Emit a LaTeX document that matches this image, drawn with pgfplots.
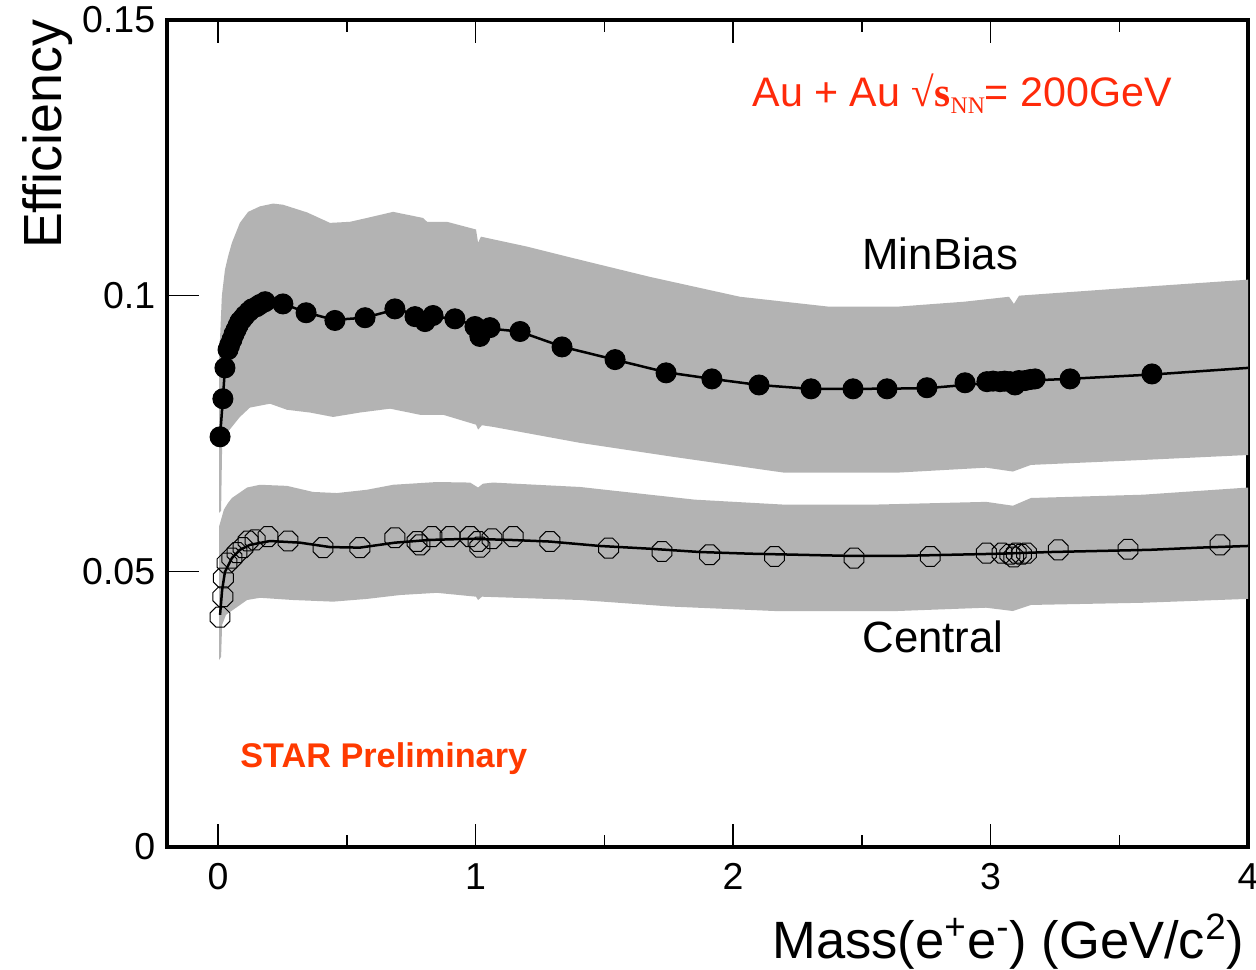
\documentclass[border=0pt]{standalone}
\usepackage{pgfplots}
\pgfplotsset{compat=1.18}
\usepgfplotslibrary{fillbetween}
\usepackage{fontspec}
\setmainfont{Liberation Sans}
\newfontfamily\seriffont{Liberation Serif}
\definecolor{bandgray}{RGB}{179,179,179}
\definecolor{aured}{RGB}{255,42,10}
\definecolor{starred}{RGB}{255,58,0}
\pgfdeclareplotmark{oct}{%
  \pgfpathmoveto{\pgfpointpolar{22.5}{\pgfplotmarksize}}%
  \pgfpathlineto{\pgfpointpolar{67.5}{\pgfplotmarksize}}%
  \pgfpathlineto{\pgfpointpolar{112.5}{\pgfplotmarksize}}%
  \pgfpathlineto{\pgfpointpolar{157.5}{\pgfplotmarksize}}%
  \pgfpathlineto{\pgfpointpolar{202.5}{\pgfplotmarksize}}%
  \pgfpathlineto{\pgfpointpolar{247.5}{\pgfplotmarksize}}%
  \pgfpathlineto{\pgfpointpolar{292.5}{\pgfplotmarksize}}%
  \pgfpathlineto{\pgfpointpolar{337.5}{\pgfplotmarksize}}%
  \pgfpathclose
  \pgfusepathqstroke}

\pgfplotstableread{
x y
0.004 0.0880
0.015 0.1000
0.027 0.1047
0.039 0.1071
0.054 0.1096
0.085 0.1132
0.117 0.1152
0.163 0.1162
0.214 0.1167
0.252 0.1165
0.346 0.1151
0.435 0.1132
0.513 0.1134
0.579 0.1141
0.680 0.1152
0.796 0.1141
0.812 0.1134
0.889 0.1134
1.002 0.1120
1.010 0.1096
1.021 0.1107
1.200 0.1089
1.406 0.1065
1.678 0.1034
2.027 0.0998
2.373 0.0980
2.637 0.0980
2.897 0.0989
3.072 0.0998
3.091 0.0985
3.111 0.1000
3.592 0.1016
4.000 0.1029
}\mbup
\pgfplotstableread{
x y
0.004 0.0606
0.012 0.0610
0.016 0.0726
0.035 0.0751
0.054 0.0762
0.085 0.0780
0.124 0.0797
0.202 0.0804
0.268 0.0793
0.357 0.0788
0.447 0.0780
0.551 0.0788
0.668 0.0795
0.784 0.0784
0.874 0.0784
1.002 0.0766
1.010 0.0757
1.025 0.0765
1.068 0.0762
1.406 0.0733
1.763 0.0708
2.198 0.0679
2.637 0.0679
2.983 0.0688
3.087 0.0681
3.157 0.0693
3.592 0.0702
4.000 0.0711
}\mblo
\pgfplotstableread{
x y
0.004 0.0581
0.023 0.0612
0.039 0.0624
0.054 0.0633
0.113 0.0652
0.163 0.0657
0.268 0.0655
0.369 0.0644
0.462 0.0642
0.579 0.0648
0.680 0.0657
0.850 0.0662
0.979 0.0661
1.010 0.0652
1.029 0.0659
1.068 0.0661
1.406 0.0653
1.852 0.0630
2.198 0.0621
2.548 0.0621
2.983 0.0626
3.087 0.0619
3.157 0.0633
3.592 0.0639
4.000 0.0652
}\ceup
\pgfplotstableread{
x y
0.004 0.0339
0.012 0.0345
0.016 0.0403
0.031 0.0421
0.058 0.0430
0.113 0.0448
0.163 0.0452
0.291 0.0448
0.447 0.0445
0.579 0.0450
0.707 0.0457
0.850 0.0461
1.002 0.0454
1.010 0.0448
1.025 0.0454
1.406 0.0448
1.763 0.0436
2.163 0.0428
2.637 0.0428
2.983 0.0434
3.087 0.0428
3.157 0.0439
3.592 0.0443
4.000 0.0450
}\celo
\pgfplotstableread{
x y
0.008 0.0744
0.019 0.0813
0.027 0.0869
0.039 0.0902
0.054 0.0920
0.070 0.0938
0.085 0.0953
0.105 0.0964
0.132 0.0976
0.163 0.0984
0.200 0.0989
0.250 0.0986
0.340 0.0970
0.450 0.0956
0.570 0.0960
0.690 0.0975
0.800 0.0964
0.920 0.0958
1.000 0.0945
1.060 0.0940
1.170 0.0935
1.340 0.0907
1.540 0.0884
1.740 0.0861
1.920 0.0849
2.100 0.0838
2.300 0.0831
2.500 0.0831
2.750 0.0832
2.900 0.0838
3.100 0.0845
3.300 0.0849
3.630 0.0857
4.000 0.0869
}\mbline
\pgfplotstableread{
x y
0.008 0.0744
0.019 0.0813
0.027 0.0869
0.039 0.0902
0.045 0.0910
0.054 0.0920
0.062 0.0930
0.070 0.0938
0.078 0.0946
0.085 0.0953
0.095 0.0958
0.105 0.0964
0.120 0.0971
0.132 0.0976
0.150 0.0980
0.163 0.0984
0.183 0.0989
0.252 0.0985
0.342 0.0969
0.454 0.0955
0.571 0.0960
0.687 0.0976
0.765 0.0962
0.804 0.0953
0.835 0.0964
0.920 0.0958
0.998 0.0944
1.017 0.0926
1.056 0.0942
1.173 0.0935
1.336 0.0907
1.542 0.0884
1.740 0.0860
1.918 0.0849
2.101 0.0838
2.303 0.0831
2.466 0.0831
2.598 0.0831
2.753 0.0833
2.901 0.0842
2.986 0.0844
3.010 0.0845
3.037 0.0844
3.055 0.0845
3.076 0.0844
3.095 0.0838
3.110 0.0846
3.134 0.0846
3.155 0.0848
3.173 0.0849
3.309 0.0849
3.627 0.0858
}\mbpts
\pgfplotstableread{
x y
0.008 0.0421
0.016 0.0466
0.027 0.0499
0.054 0.0524
0.085 0.0539
0.124 0.0548
0.202 0.0555
0.318 0.0552
0.435 0.0544
0.551 0.0543
0.687 0.0552
0.823 0.0557
0.979 0.0559
1.134 0.0557
1.289 0.0554
1.483 0.0546
1.678 0.0541
1.872 0.0535
2.066 0.0532
2.260 0.0530
2.454 0.0528
2.649 0.0528
2.843 0.0530
3.037 0.0532
3.231 0.0535
3.425 0.0537
3.619 0.0539
3.813 0.0543
4.000 0.0546
}\celine
\pgfplotstableread{
x y
0.008 0.0417
0.019 0.0454
0.021 0.0488
0.035 0.0515
0.054 0.0524
0.074 0.0534
0.097 0.0543
0.117 0.0555
0.144 0.0557
0.194 0.0563
0.272 0.0555
0.408 0.0543
0.551 0.0543
0.687 0.0561
0.773 0.0554
0.784 0.0548
0.831 0.0563
0.901 0.0563
0.979 0.0563
1.010 0.0554
1.017 0.0544
1.064 0.0559
1.146 0.0563
1.289 0.0554
1.517 0.0542
1.724 0.0536
1.909 0.0530
2.161 0.0527
2.470 0.0524
2.766 0.0527
2.984 0.0533
3.045 0.0533
3.075 0.0531
3.090 0.0526
3.100 0.0533
3.120 0.0531
3.140 0.0533
3.263 0.0539
3.534 0.0540
3.891 0.0548
}\cepts

\begin{document}
\begin{tikzpicture}
\begin{axis}[
  name=ax,
  scale only axis,
  width=432.6pt, height=330.8pt,
  xmin=-0.2, xmax=4, ymin=0, ymax=0.15,
  clip=false,
  axis line style={line width=1.6pt},
  xtick={0,1,2,3,4}, xticklabels={0,1,2,3,4},
  minor xtick={0.5,1.5,2.5,3.5},
  ytick={0,0.05,0.1,0.15}, yticklabels={0,0.05,0.1,0.15},
  xtick pos=both, ytick pos=left,
  xtick align=inside, ytick align=inside,
  major tick length=9.3pt, minor tick length=4.7pt,
  every tick/.style={line width=0.6pt, black},
  ytick style={/pgfplots/major tick length=13pt},
  ticklabel style={font=\fontsize{15}{18}\selectfont},
  xticklabel style={yshift=-3pt},
  yticklabel style={xshift=-1pt},
  scaled ticks=false,
]
\addplot[draw=none, name path=mbU] table[x=x,y=y] {\mbup};
\addplot[draw=none, name path=mbL] table[x=x,y=y] {\mblo};
\addplot[bandgray, draw=none] fill between[of=mbU and mbL];
\addplot[draw=none, name path=ceU] table[x=x,y=y] {\ceup};
\addplot[draw=none, name path=ceL] table[x=x,y=y] {\celo};
\addplot[bandgray, draw=none] fill between[of=ceU and ceL];

\addplot[black, line width=1pt, no marks] table[x=x,y=y] {\mbline};
\addplot[black, line width=1pt, no marks] table[x=x,y=y] {\celine};
\addplot[only marks, mark=*, mark size=4pt, mark options={fill=black, draw=black}] table[x=x,y=y] {\mbpts};
\addplot[only marks, mark=oct, mark size=4.3pt, mark options={draw=black, line width=0.4pt}] table[x=x,y=y] {\cepts};

\node[anchor=base west, font=\fontsize{16.5}{20}\selectfont, text=aured, inner sep=0pt] at (axis cs:2.074,0.1343)
  {Au + Au {\seriffont √\textbf{s}\raisebox{-0.35ex}{\fontsize{9.5}{11}\selectfont NN}}= 200GeV};
\node[anchor=base west, font=\fontsize{17.5}{21}\selectfont, inner sep=0pt] at (axis cs:2.501,0.1047) {MinBias};
\node[anchor=base west, font=\fontsize{17.5}{21}\selectfont, inner sep=0pt] at (axis cs:2.501,0.0352) {Central};
\node[anchor=base west, font=\bfseries\fontsize{13.7}{16}\selectfont, text=starred, inner sep=0pt] at (axis cs:0.085,0.01434) {STAR Preliminary};
\node[anchor=base east, rotate=90, font=\fontsize{21.5}{26}\selectfont, inner sep=0pt] at (axis cs:-0.606,0.1501) {Efficiency};
\node[anchor=base east, font=\fontsize{21}{25}\selectfont, inner sep=0pt] at (axis cs:3.988,-0.02015) {Mass(e\textsuperscript{+}e\textsuperscript{-}) (GeV/c\textsuperscript{2})};
\end{axis}
\pgfresetboundingbox
\path[use as bounding box] ([xshift=-66.6pt,yshift=-48.8pt]ax.south west) rectangle ([xshift=3.2pt,yshift=8pt]ax.north east);
\end{tikzpicture}
\end{document}
